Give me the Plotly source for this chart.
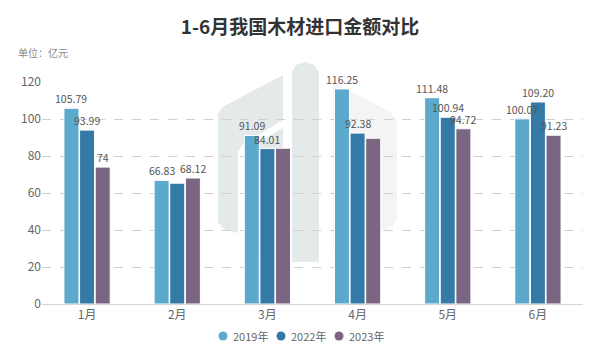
import plotly.graph_objects as go

months = ["1月", "2月", "3月", "4月", "5月", "6月"]
v2019 = [105.79, 66.83, 91.09, 116.25, 111.48, 100.07]
v2022 = [93.99, 65.3, 84.01, 92.38, 100.94, 109.20]
v2023 = [74, 68.12, 84.2, 89.6, 94.72, 91.23]
t2019 = ["105.79", "66.83", "91.09", "116.25", "111.48", "100.07"]
t2022 = ["93.99", "", "84.01", "92.38", "100.94", "109.20"]
t2023 = ["74", "68.12", "", "", "94.72", "91.23"]

series = [("2019年", v2019, t2019, "#5BA9CC"),
          ("2022年", v2022, t2022, "#357AA6"),
          ("2023年", v2023, t2023, "#7A6682")]

FONT = "Noto Sans CJK SC"

# plot area in pixels
L, R, T, B = 42, 583, 82, 304
W, H = R - L, B - T
BARGAP = 0.48
SLOT = W / len(months) * (1 - BARGAP) / len(series)

def px(x, y):
    return (x - L) / W, (B - y) / H

def path(pts):
    s = ""
    for i, (x, y) in enumerate(pts):
        a, b = px(x, y)
        s += ("M" if i == 0 else "L") + f"{a:.4f},{b:.4f} "
    return s + "Z"

fig = go.Figure()
annotations = []
for k, (name, vals, txt, col) in enumerate(series):
    fig.add_trace(go.Bar(
        x=months, y=vals, name=name,
        marker=dict(color=col, line=dict(color="white", width=1)),
        showlegend=False, hoverinfo="skip",
    ))
    for m, v, t in zip(months, vals, txt):
        if t:
            annotations.append(dict(
                x=m, y=v, xref="x", yref="y", text=t, showarrow=False,
                xanchor="center", yanchor="bottom", xshift=(k - 1) * SLOT, yshift=0,
                font=dict(size=10.5, color="#555", family=FONT)))

WM1 = "#E4E9EA"
WM2 = "#F3F4F3"
shapes = []
# watermark: left outer band
shapes.append(dict(type="path", xref="paper", yref="paper", layer="below",
                   path=path([(283, 75), (224, 106), (218, 113), (218, 222), (224, 229),
                              (238, 233), (238, 152), (243, 144), (283, 120)]),
                   fillcolor=WM1, line=dict(width=0)))
# inner part
shapes.append(dict(type="path", xref="paper", yref="paper", layer="below",
                   path=path([(283, 128), (250, 147), (245, 154), (245, 240), (252, 252),
                              (266, 260), (283, 262)]),
                   fillcolor=WM1, line=dict(width=0)))
# pillar
shapes.append(dict(type="path", xref="paper", yref="paper", layer="below",
                   path=path([(292, 72), (296, 65), (305, 62), (314, 65), (319, 72),
                              (319, 262), (292, 262)]),
                   fillcolor=WM1, line=dict(width=0)))
# right half hexagon
shapes.append(dict(type="path", xref="paper", yref="paper", layer="below",
                   path=path([(333, 82), (390, 112), (397, 120), (397, 218), (392, 226),
                              (345, 250), (333, 250)]),
                   fillcolor=WM2, line=dict(width=0)))

# legend (circle + label), laid out in pixels
legend_x = [223, 281, 339]
legend_y = 336
for (name, vals, txt, col), lx in zip(series, legend_x):
    x0, y0 = px(lx - 4.5, legend_y - 4.5)
    x1, y1 = px(lx + 4.5, legend_y + 4.5)
    shapes.append(dict(type="circle", xref="paper", yref="paper", x0=x0, x1=x1,
                       y0=y1, y1=y0, fillcolor=col, line=dict(width=0)))
    annotations.append(dict(text=name, xref="paper", yref="paper", x=px(lx + 8, 0)[0],
                            y=px(0, legend_y)[1], xanchor="left", yanchor="middle",
                            showarrow=False, font=dict(size=11, color="#666", family=FONT)))

annotations.append(dict(text="单位：亿元", xref="paper", yref="paper", x=px(16, 0)[0],
                        y=px(0, 52)[1], xanchor="left", yanchor="middle", showarrow=False,
                        font=dict(size=10, color="#888", family=FONT)))

fig.update_layout(
    width=600, height=364,
    margin=dict(l=L, r=600 - R, t=T, b=364 - B, autoexpand=False),
    paper_bgcolor="white", plot_bgcolor="rgba(0,0,0,0)",
    font=dict(family=FONT, color="#666", size=12),
    title=dict(text="<b>1-6月我国木材进口金额对比</b>", x=0.5, xanchor="center",
               y=1 - 27 / 364, yanchor="middle",
               font=dict(size=19, color="#333", family=FONT)),
    barmode="group", bargap=BARGAP, bargroupgap=0.04,
    showlegend=False,
    xaxis=dict(showline=True, linecolor="#D5D5D5", linewidth=1, ticks="",
               tickfont=dict(size=12, color="#666"), showgrid=False, automargin=False),
    yaxis=dict(range=[0, 120], dtick=20, showgrid=True, gridcolor="#D0D0D0",
               griddash="dash", gridwidth=1, zeroline=False, automargin=False,
               tickfont=dict(size=12, color="#666")),
    shapes=shapes,
    annotations=annotations,
)
fig.write_html("out.html", config={"displayModeBar": False},
               post_script="document.body.style.margin='0';")
